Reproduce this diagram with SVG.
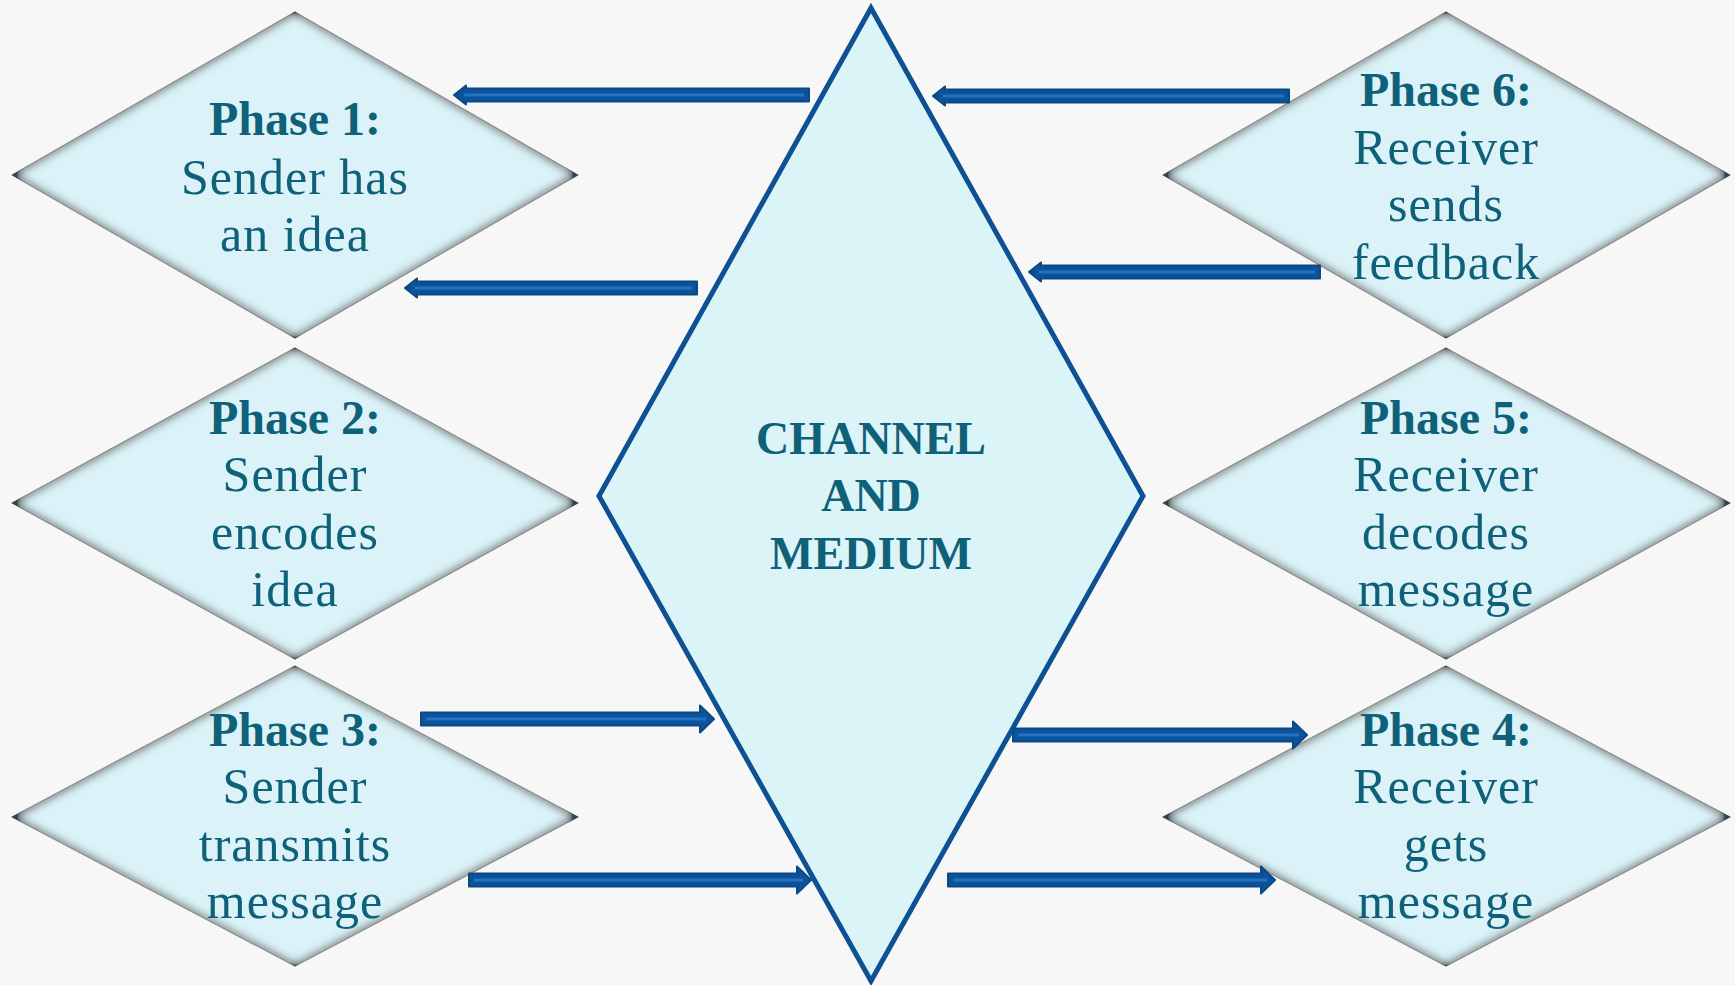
<svg xmlns="http://www.w3.org/2000/svg" width="1735" height="985" viewBox="0 0 1735 985">
<style>
.ph{fill:#DBF3F8;stroke:#ffffff;stroke-width:3;filter:url(#inset)}
.t{font-family:"Liberation Serif","DejaVu Serif",serif;font-size:50px;letter-spacing:1px;fill:#0F6179;text-anchor:middle}
.b{font-weight:bold;font-size:48px;letter-spacing:0}
.ar{fill:#0D539A;stroke:#0A4887;stroke-width:2;stroke-linejoin:round}
.in{stroke:#2273C6;stroke-width:3;fill:none}
.ct{font-family:"Liberation Serif","DejaVu Serif",serif;font-size:46px;font-weight:bold;fill:#0F6179;text-anchor:middle}
</style>
<defs>
<filter id="inset" x="-10%" y="-10%" width="120%" height="120%">
<feComponentTransfer in="SourceAlpha" result="inv"><feFuncA type="table" tableValues="1 0"/></feComponentTransfer>
<feGaussianBlur in="inv" stdDeviation="6" result="blur0"/>
<feComponentTransfer in="blur0" result="blur"><feFuncA type="linear" slope="1.7" intercept="0"/></feComponentTransfer>
<feFlood flood-color="#2E4548" flood-opacity="1"/>
<feComposite in2="blur" operator="in" result="sh"/>
<feComposite in="sh" in2="SourceAlpha" operator="in" result="ish"/>
<feMerge><feMergeNode in="SourceGraphic"/><feMergeNode in="ish"/></feMerge>
</filter>
</defs>
<rect width="1735" height="985" fill="#F7F7F7"/>

<g id="center">
<polygon points="871,8 1143,496 871,981 599,496" fill="#DBF4F8" stroke="#0D5192" stroke-width="5" stroke-linejoin="miter"/>
<text class="ct" x="871" y="454">CHANNEL</text>
<text class="ct" x="871" y="511">AND</text>
<text class="ct" x="871" y="569">MEDIUM</text>
</g>

<g id="phase1">
<polygon class="ph" points="295,13 576,175 295,337 14,175"/>
<text class="t b" x="295" y="135">Phase 1:</text>
<text class="t" x="295" y="194">Sender has</text>
<text class="t" x="295" y="251">an idea</text>
</g>
<g id="phase2">
<polygon class="ph" points="295,349 576,503 295,658 14,503"/>
<text class="t b" x="295" y="434">Phase 2:</text>
<text class="t" x="295" y="491">Sender</text>
<text class="t" x="295" y="549">encodes</text>
<text class="t" x="295" y="606">idea</text>
</g>
<g id="phase3">
<polygon class="ph" points="295,667 576,817 295,965 14,817"/>
<text class="t b" x="295" y="746">Phase 3:</text>
<text class="t" x="295" y="803">Sender</text>
<text class="t" x="295" y="861">transmits</text>
<text class="t" x="295" y="918">message</text>
</g>
<g id="phase6">
<polygon class="ph" points="1446,13 1728,175 1446,337 1165,175"/>
<text class="t b" x="1446" y="106">Phase 6:</text>
<text class="t" x="1446" y="164">Receiver</text>
<text class="t" x="1446" y="221">sends</text>
<text class="t" x="1446" y="279">feedback</text>
</g>
<g id="phase5">
<polygon class="ph" points="1446,349 1728,503 1446,658 1165,503"/>
<text class="t b" x="1446" y="434">Phase 5:</text>
<text class="t" x="1446" y="491">Receiver</text>
<text class="t" x="1446" y="549">decodes</text>
<text class="t" x="1446" y="606">message</text>
</g>
<g id="phase4">
<polygon class="ph" points="1446,667 1728,817 1446,965 1165,817"/>
<text class="t b" x="1446" y="746">Phase 4:</text>
<text class="t" x="1446" y="803">Receiver</text>
<text class="t" x="1446" y="861">gets</text>
<text class="t" x="1446" y="918">message</text>
</g>

<g id="connectors">
<path class="ar" d="M809,88.5 H466 V85.5 L454,95 L466,104.5 V101.5 H809 Z"/>
<path class="in" d="M804,95 H464"/>
<path class="ar" d="M697,281.5 H417 V278.5 L405,288 L417,297.5 V294.5 H697 Z"/>
<path class="in" d="M692,288 H415"/>
<path class="ar" d="M1289,89.5 H945 V86.5 L933,96 L945,105.5 V102.5 H1289 Z"/>
<path class="in" d="M1284,96 H943"/>
<path class="ar" d="M1320,265.5 H1041 V262.5 L1029,272 L1041,281.5 V278.5 H1320 Z"/>
<path class="in" d="M1315,272 H1039"/>
<path class="ar" d="M421,712.5 H700 V705.5 L714,719 L700,732.5 V725.5 H421 Z"/>
<path class="in" d="M426,719 H706"/>
<path class="ar" d="M469,873.5 H797 V866.5 L811,880 L797,893.5 V886.5 H469 Z"/>
<path class="in" d="M474,880 H803"/>
<path class="ar" d="M1013,728.5 H1293 V721.5 L1307,735 L1293,748.5 V741.5 H1013 Z"/>
<path class="in" d="M1018,735 H1299"/>
<path class="ar" d="M948,873.5 H1261 V866.5 L1275,880 L1261,893.5 V886.5 H948 Z"/>
<path class="in" d="M953,880 H1267"/>
</g>
</svg>
